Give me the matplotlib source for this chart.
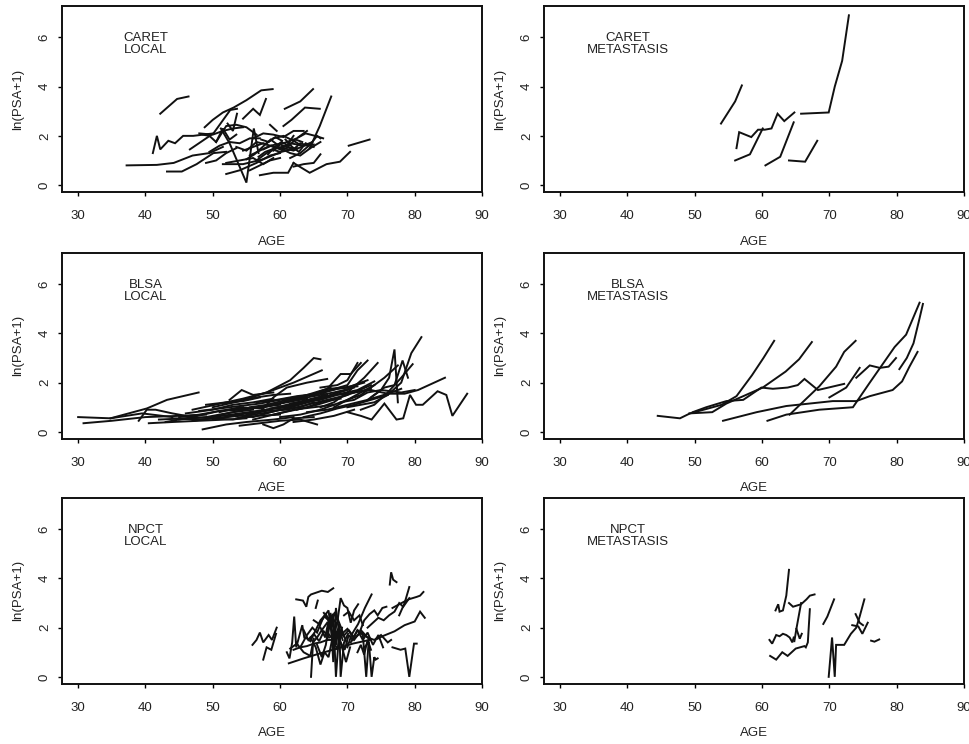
import matplotlib
matplotlib.use('Agg')
import matplotlib.pyplot as plt

plt.rcParams['font.family'] = ['Liberation Sans', 'DejaVu Sans']

# each subject: (ages, ln(PSA+1) values)
caret_local = [
    ([37.2, 41.7, 44.2, 47.0, 49.5, 51.5], [0.8, 0.82, 0.9, 1.2, 1.3, 1.55]),
    ([42.2, 44.7, 46.4], [2.9, 3.5, 3.6]),
    ([41.1, 41.7, 42.2, 43.4, 44.4, 45.6, 47.1, 50.1], [1.3, 2.0, 1.45, 1.8, 1.7, 2.0, 2.0, 2.1]),
    ([43.2, 45.4, 47.6, 50.1, 52.0], [0.55, 0.55, 0.85, 1.3, 1.35]),
    ([46.6, 50.1, 52.6, 53.6], [1.45, 2.1, 3.05, 3.1]),
    ([51.2, 52.5, 55.0, 56.1, 56.8], [2.3, 1.7, 0.1, 2.3, 1.3]),
    ([48.8, 50.0, 51.5, 53.1, 55.0, 57.2, 58.9], [2.35, 2.65, 2.95, 3.15, 3.45, 3.85, 3.9]),
    ([54.5, 56.0, 57.0, 57.9], [2.7, 3.1, 2.85, 3.5]),
    ([60.7, 63.0, 64.9], [3.1, 3.4, 3.9]),
    ([60.5, 61.7, 63.7, 65.9], [2.4, 2.65, 3.15, 3.1]),
    ([64.4, 65.9, 67.6], [1.5, 2.4, 3.6]),
    ([70.2, 73.3], [1.6, 1.85]),
    ([62.0, 64.4, 66.9, 68.9, 70.4], [0.9, 0.5, 0.85, 0.95, 1.35]),
    ([57.0, 59.0, 61.2, 62.0], [0.4, 0.5, 0.5, 0.9]),
    ([52.0, 54.0, 56.5, 58.5, 60.0], [0.45, 0.6, 0.9, 1.2, 1.3]),
    ([51.5, 54.5, 57.5, 60.2, 62.5], [0.85, 0.85, 1.05, 1.35, 1.5]),
    ([55.5, 57.0, 58.5, 60.5, 62.5, 64.0], [1.2, 1.4, 1.6, 1.7, 1.9, 2.2]),
    ([56.5, 58.0, 59.5, 61.0, 62.0], [1.0, 1.3, 1.5, 1.6, 2.0]),
    ([57.5, 58.7, 60.0, 61.5, 63.5, 65.0], [1.45, 1.6, 1.45, 1.7, 1.6, 1.65]),
    ([58.0, 59.0, 60.5, 62.0, 63.2], [1.7, 1.9, 2.0, 1.8, 1.6]),
    ([58.5, 59.5], [2.45, 2.2]),
    ([54.5, 56.0, 57.5, 59.0, 60.5, 62.0, 63.5, 64.8], [1.4, 1.55, 1.7, 1.55, 1.5, 1.4, 1.6, 1.75]),
    ([60.0, 61.5, 63.0, 64.5, 66.0], [1.5, 1.3, 1.2, 1.5, 1.75]),
    ([61.5, 63.0, 64.5, 65.5, 66.0], [1.1, 1.3, 1.65, 2.0, 1.9]),
    ([49.5, 51.0, 52.5, 54.0, 55.5, 57.0], [1.35, 1.6, 1.75, 1.7, 1.9, 1.9]),
    ([48.0, 50.0, 51.5, 53.0, 54.5], [2.1, 2.05, 2.2, 2.3, 2.35]),
    ([52.0, 54.0, 56.0, 57.5, 59.0], [0.9, 1.0, 1.1, 0.85, 1.1]),
    ([55.5, 57.0, 58.5, 60.0], [0.6, 0.8, 1.0, 1.1]),
    ([62.0, 63.5, 65.0, 66.0], [0.75, 0.85, 0.9, 1.25]),
    ([49.0, 50.5, 52.0, 53.5], [0.9, 1.0, 1.3, 1.5]),
    ([56.0, 57.5, 59.0, 60.5, 62.0, 63.5], [1.9, 2.1, 2.05, 1.95, 2.2, 2.2]),
    ([48.5, 49.5, 50.5, 51.5, 52.5, 53.5], [2.05, 2.0, 1.75, 2.3, 1.85, 2.05]),
    ([52.2, 53.0, 53.6], [2.5, 2.2, 2.9]),
    ([56.8, 57.8, 58.8, 60.0, 61.2, 62.4], [1.15, 1.35, 1.45, 1.35, 1.55, 1.45]),
    ([58.2, 59.2, 60.2, 61.3, 62.3, 63.3], [1.25, 1.55, 1.75, 1.6, 1.85, 1.75]),
    ([59.0, 60.0, 61.0, 62.0, 63.0, 64.2], [1.4, 1.65, 1.55, 1.45, 1.7, 1.6]),
    ([55.0, 56.2, 57.4, 58.6, 59.8], [1.05, 1.25, 1.55, 1.85, 1.6]),
    ([53.5, 55.0, 56.5, 58.0], [1.55, 1.4, 1.75, 1.65]),
    ([60.8, 61.8, 62.8, 63.8, 65.0], [1.85, 1.55, 1.35, 1.7, 1.55]),
    ([57.2, 58.3, 59.3, 60.3], [1.85, 1.75, 1.95, 1.8]),
    ([50.5, 52.0, 53.5, 55.0, 56.5], [1.75, 2.4, 2.45, 2.35, 2.05]),
    ([62.8, 63.8, 65.2, 66.4], [1.95, 2.1, 2.0, 1.9]),
]

caret_meta = [
    ([53.9, 56.0, 57.0], [2.5, 3.4, 4.05]),
    ([56.2, 56.6, 58.4, 59.4, 60.4, 61.4, 62.3, 63.3, 64.8], [1.5, 2.15, 1.95, 2.25, 2.25, 2.3, 2.9, 2.6, 2.95]),
    ([56.0, 58.2, 60.1], [1.0, 1.25, 2.3]),
    ([60.5, 62.7, 64.7], [0.8, 1.15, 2.55]),
    ([64.0, 66.4, 68.2], [1.0, 0.95, 1.8]),
    ([65.8, 69.9, 70.8, 71.9, 72.9], [2.9, 2.95, 4.0, 5.05, 6.9]),
]

blsa_local = [
    ([30.0, 34.8, 39.5, 44.0], [0.6, 0.55, 0.75, 0.6]),
    ([30.8, 35.0, 40.0, 45.0, 49.0], [0.35, 0.45, 0.6, 0.65, 0.7]),
    ([34.8, 40.2, 43.2, 47.9], [0.55, 0.95, 1.3, 1.6]),
    ([39.0, 40.2, 41.5, 44.0, 47.0], [0.45, 0.9, 0.9, 0.75, 0.6]),
    ([40.5, 44.0, 48.0, 52.0, 55.0], [0.35, 0.4, 0.45, 0.5, 0.55]),
    ([42.0, 46.0, 50.0, 54.0, 58.0], [0.5, 0.55, 0.6, 0.75, 0.9]),
    ([43.0, 47.0, 51.0, 54.5], [0.4, 0.6, 0.85, 1.0]),
    ([45.0, 48.0, 51.0, 54.0, 57.0, 60.0], [0.6, 0.7, 0.85, 0.9, 1.0, 1.1]),
    ([46.0, 50.0, 53.0, 56.0, 59.0], [0.75, 0.9, 1.1, 1.2, 1.35]),
    ([48.5, 52.0, 55.0, 59.0, 62.0], [0.1, 0.3, 0.4, 0.5, 0.6]),
    ([49.0, 52.0, 54.5, 58.0, 61.5, 63.5, 65.0, 66.0], [1.1, 1.2, 1.35, 1.6, 2.1, 2.6, 3.0, 2.95]),
    ([50.0, 54.0, 58.0, 62.0, 66.2], [1.0, 1.25, 1.6, 2.0, 2.5]),
    ([50.0, 53.5, 56.0, 60.0, 63.0, 65.0], [0.5, 0.7, 0.6, 0.9, 1.0, 1.2]),
    ([51.0, 54.0, 57.0, 60.5, 64.0], [0.8, 1.0, 0.95, 1.2, 1.4]),
    ([52.0, 55.0, 58.0, 61.0, 64.0, 67.0], [0.6, 0.75, 0.9, 1.1, 1.3, 1.5]),
    ([52.5, 54.3, 56.0, 59.0], [1.3, 1.7, 1.5, 1.6]),
    ([53.0, 56.5, 60.0, 63.0, 66.0, 69.0], [0.9, 1.0, 1.15, 1.4, 1.6, 1.8]),
    ([54.0, 57.0, 60.0, 63.0, 65.5], [0.25, 0.35, 0.45, 0.5, 0.3]),
    ([55.0, 58.0, 61.0, 64.0, 67.0, 70.0], [0.7, 0.85, 0.9, 1.1, 1.3, 1.5]),
    ([55.5, 58.0, 61.0, 64.5, 67.5], [1.0, 1.1, 1.3, 1.5, 1.8]),
    ([56.0, 59.0, 62.0, 65.0, 68.0], [0.5, 0.7, 0.9, 1.0, 1.1]),
    ([57.0, 59.0, 61.0, 64.0, 67.0], [0.8, 1.4, 1.8, 2.0, 2.15]),
    ([57.5, 59.0, 60.5, 62.0, 65.0], [0.3, 0.15, 0.3, 0.55, 0.6]),
    ([58.0, 61.0, 64.0, 67.0, 70.0, 72.0], [0.9, 1.0, 1.2, 1.45, 1.7, 2.0]),
    ([59.0, 62.0, 65.0, 68.0, 71.0], [1.1, 1.3, 1.45, 1.6, 1.8]),
    ([60.0, 63.0, 66.0, 69.0, 72.0, 74.0], [0.6, 0.7, 0.9, 1.2, 1.5, 1.9]),
    ([61.0, 64.0, 67.0, 70.0, 73.0], [1.3, 1.5, 1.75, 1.8, 2.1]),
    ([62.0, 65.0, 68.0, 71.0], [0.4, 0.5, 0.65, 0.9]),
    ([63.0, 66.0, 67.5, 69.0, 70.5, 72.0], [1.2, 1.4, 1.9, 2.35, 2.35, 2.8]),
    ([64.0, 67.0, 70.0, 73.0, 76.0, 78.0], [0.8, 0.9, 1.1, 1.3, 1.55, 1.75]),
    ([65.0, 67.5, 70.0, 71.5, 73.0], [1.5, 1.7, 1.9, 2.5, 2.9]),
    ([66.0, 68.0, 70.0, 72.5, 74.5], [1.0, 1.2, 1.6, 2.2, 2.8]),
    ([73.0, 75.0, 76.2, 77.0, 77.5], [1.3, 1.7, 2.2, 3.35, 1.2]),
    ([68.0, 70.0, 72.0, 74.0, 75.5, 77.5], [1.0, 1.3, 1.6, 1.9, 2.2, 2.7]),
    ([69.0, 71.0, 73.0, 75.0, 78.0, 80.0], [1.2, 1.3, 1.6, 1.7, 1.6, 1.7]),
    ([70.0, 72.0, 74.0, 76.0, 78.0, 79.5, 81.0], [1.0, 1.1, 1.2, 1.5, 2.0, 3.2, 3.85]),
    ([71.0, 73.5, 76.0, 78.5, 80.5, 84.5], [1.6, 1.7, 1.55, 1.55, 1.7, 2.2]),
    ([72.0, 74.0, 76.0, 78.0, 79.7], [0.9, 1.1, 1.6, 2.2, 2.75]),
    ([70.0, 72.0, 73.6, 75.5, 77.3, 78.3, 79.3, 80.2, 81.2, 83.4, 84.7, 85.6, 87.8],
     [0.8, 0.65, 0.5, 1.15, 0.5, 0.55, 1.5, 1.1, 1.1, 1.65, 1.5, 0.65, 1.55]),
    ([73.5, 75.5, 77.0, 78.2, 79.0], [1.4, 1.8, 1.9, 2.9, 2.2]),
    ([66.0, 68.5, 70.0, 71.5], [1.8, 1.9, 2.1, 2.8]),
    ([45.0, 49.0, 53.0, 56.0], [0.5, 0.6, 0.8, 0.9]),
    ([47.0, 50.0, 53.0, 56.5, 60.0], [0.45, 0.55, 0.5, 0.65, 0.7]),
    ([44.0, 48.0, 52.0, 56.0], [0.55, 0.5, 0.6, 0.7]),
    ([59.0, 61.5, 64.0, 66.5, 69.0], [0.7, 0.85, 1.0, 1.25, 1.35]),
    ([62.5, 65.5, 68.5, 71.0, 73.5], [0.9, 1.1, 1.35, 1.6, 1.75]),
    ([48.0, 51.0, 54.0, 57.0, 60.0, 63.0], [0.85, 0.95, 1.05, 1.15, 1.3, 1.45]),
    ([50.5, 53.0, 55.5, 58.0, 61.0, 64.0], [0.65, 0.8, 0.95, 1.05, 1.2, 1.35]),
    ([53.5, 56.0, 58.5, 61.0, 63.5, 66.0, 68.5], [0.55, 0.7, 0.8, 0.95, 1.15, 1.35, 1.6]),
    ([56.5, 59.5, 62.5, 65.5, 68.5, 71.5], [1.2, 1.3, 1.45, 1.55, 1.75, 1.85]),
    ([58.5, 61.0, 63.5, 66.0, 68.5, 71.0, 73.5], [0.95, 1.05, 1.2, 1.3, 1.5, 1.6, 1.9]),
    ([61.5, 64.0, 66.5, 69.0, 71.5, 74.0], [1.15, 1.25, 1.4, 1.55, 1.7, 2.05]),
    ([63.5, 66.0, 68.5, 71.0, 73.5, 76.0], [0.6, 0.75, 0.95, 1.1, 1.3, 1.5]),
    ([47.0, 49.5, 52.0, 54.5, 57.0], [0.9, 1.05, 1.2, 1.25, 1.4]),
    ([51.5, 54.0, 56.5, 59.0, 61.5], [1.15, 1.25, 1.4, 1.5, 1.55]),
    ([64.5, 66.5, 68.5, 70.5, 72.5], [1.45, 1.6, 1.75, 1.85, 2.0]),
]

blsa_meta = [
    ([44.5, 47.8, 49.3, 52.0, 54.0, 56.2, 58.5, 60.2, 61.8], [0.65, 0.55, 0.75, 0.95, 1.1, 1.45, 2.3, 3.0, 3.7]),
    ([49.2, 52.6, 54.7, 57.2, 60.1, 63.5, 65.5, 67.4], [0.75, 0.8, 1.15, 1.45, 1.8, 2.45, 2.95, 3.65]),
    ([49.7, 51.7, 54.7, 57.2, 59.9, 61.6, 63.8, 65.3, 66.3, 68.3, 72.2],
     [0.8, 1.0, 1.25, 1.3, 1.8, 1.75, 1.8, 1.9, 2.15, 1.7, 1.95]),
    ([54.2, 59.2, 63.6, 70.5, 74.0, 76.0, 79.4, 80.8, 81.9, 83.1],
     [0.45, 0.8, 1.05, 1.25, 1.25, 1.45, 1.7, 2.05, 2.65, 3.25]),
    ([60.8, 63.6, 68.5, 73.5, 76.0, 79.7, 81.4, 83.4], [0.45, 0.7, 0.9, 1.0, 2.0, 3.45, 3.95, 5.25]),
    ([64.1, 68.5, 71.0, 72.2, 73.9], [0.7, 1.85, 2.65, 3.25, 3.7]),
    ([70.0, 72.5, 74.5], [1.4, 1.8, 2.6]),
    ([74.0, 76.0, 77.5, 78.8, 79.9], [2.2, 2.7, 2.6, 2.65, 3.0]),
    ([80.4, 81.5, 82.5, 83.3, 83.9], [2.55, 3.0, 3.6, 4.5, 5.2]),
]

npct_local = [
    ([55.9, 56.5, 57.0, 57.5, 58.3, 58.8, 59.5], [1.3, 1.5, 1.8, 1.4, 1.7, 1.5, 2.0]),
    ([57.5, 58.0, 58.7, 59.4], [0.7, 1.2, 1.1, 1.75]),
    ([61.0, 61.4, 61.8, 62.1, 62.4, 62.9, 63.3, 63.6], [1.0, 0.75, 1.4, 2.45, 1.2, 1.7, 2.1, 1.6]),
    ([61.3, 63.5, 65.9, 68.5, 70.8, 73.3], [0.55, 0.75, 0.95, 1.15, 1.35, 1.5]),
    ([62.4, 63.4, 63.9, 64.2, 64.6, 66.2, 67.1, 67.9], [3.15, 3.1, 2.85, 3.25, 3.35, 3.5, 3.45, 3.6]),
    ([65.3, 65.6], [2.8, 3.1]),
    ([64.6, 64.9, 65.5, 66.2, 67.0], [0.0, 1.4, 1.6, 1.9, 2.2]),
    ([63.0, 63.8, 64.5, 65.3, 66.0, 66.8, 67.5, 68.2], [1.2, 1.6, 1.45, 1.9, 2.3, 2.55, 2.2, 2.6]),
    ([64.0, 64.8, 65.5, 66.4, 67.2, 67.9, 68.4], [1.7, 2.0, 1.8, 2.4, 2.7, 1.2, 2.2]),
    ([65.5, 66.2, 66.8, 67.5, 67.9, 68.3, 68.9], [1.3, 0.8, 1.3, 2.6, 0.6, 2.8, 1.5]),
    ([66.0, 66.7, 67.3, 67.9, 68.3, 68.8, 69.3], [2.0, 1.6, 2.4, 2.55, 0.0, 1.9, 1.5]),
    ([67.0, 67.6, 68.3, 68.8, 69.0, 69.5, 70.1], [1.5, 2.5, 1.3, 2.1, 0.0, 1.4, 1.75]),
    ([68.5, 69.0, 69.5, 70.0, 70.5, 71.0, 71.6], [2.2, 3.2, 2.9, 2.8, 2.2, 2.7, 2.95]),
    ([69.0, 69.6, 70.2, 70.8, 71.5, 72.3, 72.8, 73.2], [1.4, 1.1, 1.7, 1.5, 1.9, 1.7, 0.0, 1.6]),
    ([70.0, 70.6, 71.6, 72.6, 73.6], [1.2, 1.7, 2.15, 2.8, 3.35]),
    ([71.0, 71.8, 72.5, 73.3, 74.0, 74.5, 75.2, 75.8], [1.5, 1.8, 2.3, 2.55, 2.7, 2.5, 2.8, 2.85]),
    ([72.5, 73.2, 73.6, 74.0, 74.2, 74.5], [1.2, 1.4, 0.0, 0.8, 0.7, 0.75]),
    ([73.0, 73.8, 74.6, 75.4, 76.2, 77.0, 77.7, 78.3, 79.2], [2.0, 2.2, 2.4, 2.3, 2.5, 2.65, 3.0, 2.85, 3.2]),
    ([76.7, 77.7, 79.1, 80.3, 80.8, 81.3], [2.8, 2.95, 3.15, 3.25, 3.3, 3.45]),
    ([77.7, 78.5, 79.2], [2.5, 3.0, 3.65]),
    ([74.5, 75.2, 77.0, 78.5, 80.0, 80.5, 80.8, 81.5], [1.55, 1.65, 1.85, 2.1, 2.25, 2.5, 2.65, 2.4]),
    ([76.7, 77.9, 78.6, 79.2, 79.9, 80.3], [1.2, 1.1, 1.15, 0.0, 1.35, 1.35]),
    ([76.3, 76.5, 76.8, 77.3], [3.75, 4.25, 3.95, 3.85]),
    ([72.0, 73.0, 74.0, 75.0, 76.0, 76.5], [1.9, 1.6, 1.5, 1.7, 1.4, 1.5]),
    ([70.5, 71.5, 72.3, 73.0, 73.8, 74.6, 75.3], [1.4, 1.9, 1.5, 1.8, 1.3, 1.7, 1.2]),
    ([62.0, 63.0, 64.0, 65.0, 66.0, 67.0, 68.0], [1.1, 1.2, 1.25, 1.35, 1.4, 1.5, 1.5]),
    ([64.5, 65.3, 66.0, 66.6, 67.2, 67.8, 68.5, 69.2], [1.6, 1.2, 0.5, 1.0, 0.8, 1.6, 1.1, 2.0]),
    ([66.5, 67.2, 67.7, 68.1, 68.6, 69.2, 69.8, 70.4], [2.6, 2.3, 1.9, 1.4, 1.8, 1.2, 0.6, 1.2]),
    ([68.0, 69.0, 70.0, 71.0, 72.0, 73.0], [1.9, 1.7, 1.95, 1.55, 1.8, 1.6]),
    ([61.5, 62.5, 63.5, 64.5, 65.0], [1.15, 1.35, 1.0, 0.85, 1.55]),
    ([71.5, 72.0, 72.5, 73.0, 73.5], [1.0, 1.3, 0.9, 1.5, 1.1]),
    ([69.5, 70.2, 71.0, 71.8, 72.3], [2.5, 2.65, 2.3, 2.5, 2.1]),
    ([67.5, 68.5, 69.2, 70.0], [2.1, 2.4, 1.9, 1.3]),
    ([63.5, 64.2, 65.0, 65.8, 66.5, 67.3], [1.9, 1.5, 1.75, 1.45, 1.85, 1.6]),
    ([67.2, 68.0, 68.7, 69.4, 70.2, 71.0], [1.75, 1.45, 2.0, 1.65, 1.9, 1.6]),
    ([65.0, 65.8, 66.6, 67.4, 68.1], [2.3, 2.15, 2.45, 2.25, 2.6]),
]

npct_meta = [
    ([62.0, 62.4, 62.6, 63.1, 63.6, 64.0], [2.7, 2.95, 2.65, 2.7, 3.3, 4.35]),
    ([64.0, 64.6, 65.8, 66.6, 67.1, 67.8], [3.0, 2.85, 2.95, 3.15, 3.3, 3.35]),
    ([64.8, 65.1, 65.8], [1.45, 1.95, 3.0]),
    ([65.1, 65.6, 65.9], [1.95, 1.55, 1.75]),
    ([61.1, 61.5, 62.1, 62.6, 63.1, 63.6, 64.1, 64.5, 64.7], [1.5, 1.35, 1.7, 1.65, 1.75, 1.7, 1.6, 1.4, 1.6]),
    ([61.2, 62.1, 63.0, 63.8, 65.0, 66.3, 66.5, 66.8, 67.1], [0.85, 0.7, 1.0, 0.85, 1.15, 1.25, 1.2, 1.4, 2.75]),
    ([69.1, 69.7, 70.7], [2.15, 2.45, 3.15]),
    ([69.9, 70.4, 70.8, 71.0, 72.2, 73.2, 74.0, 74.5, 75.2], [0.0, 1.6, 0.0, 1.3, 1.3, 1.75, 2.0, 2.45, 3.15]),
    ([73.4, 74.3, 74.9, 75.7], [2.1, 2.05, 1.75, 2.2]),
    ([73.9, 74.5, 75.0], [2.55, 2.2, 2.1]),
    ([76.2, 76.7, 77.4], [1.47, 1.43, 1.52]),
]

studies = ['CARET', 'BLSA', 'NPCT']
stages = ['LOCAL', 'METASTASIS']
panel_data = [[caret_local, caret_meta], [blsa_local, blsa_meta], [npct_local, npct_meta]]

fig = plt.figure(figsize=(9.7, 7.44), dpi=100)
lefts = [0.0639, 0.5608]
bottoms = [0.742, 0.4103, 0.081]
txt = '#222222'

for r in range(3):
    for c in range(2):
        ax = fig.add_axes([lefts[c], bottoms[r], 0.433, 0.25])
        for ages, vals in panel_data[r][c]:
            ax.plot(ages, vals, color='#111111', lw=1.4, solid_joinstyle='miter')
        ax.set_xlim(27.6, 90)
        ax.set_ylim(-0.28, 7.28)
        ax.set_xticks(range(30, 91, 10))
        ax.set_yticks([0, 2, 4, 6])
        for s in ax.spines.values():
            s.set_linewidth(1.4)
            s.set_color('#111111')
        ax.tick_params(axis='x', direction='out', length=3, width=1, pad=10,
                       labelsize=9.5, labelcolor=txt)
        ax.tick_params(axis='y', direction='out', length=3, width=1, pad=5,
                       labelsize=9.5, labelcolor=txt)
        for lab in ax.get_yticklabels():
            lab.set_rotation(90)
            lab.set_va('center')
        ax.set_xlabel('AGE', fontsize=9.5, color=txt)
        ax.xaxis.set_label_coords(0.5, -0.235)
        ax.set_ylabel('ln(PSA+1)', fontsize=9.5, color=txt)
        ax.yaxis.set_label_coords(-0.09, 0.5)
        # two-line label, lines set tight as in the reference
        ax.text(40, 5.96, studies[r], ha='center', va='center', fontsize=9.5, color=txt)
        ax.text(40, 5.49, stages[c], ha='center', va='center', fontsize=9.5, color=txt)

fig.savefig('out.png', dpi=100)
